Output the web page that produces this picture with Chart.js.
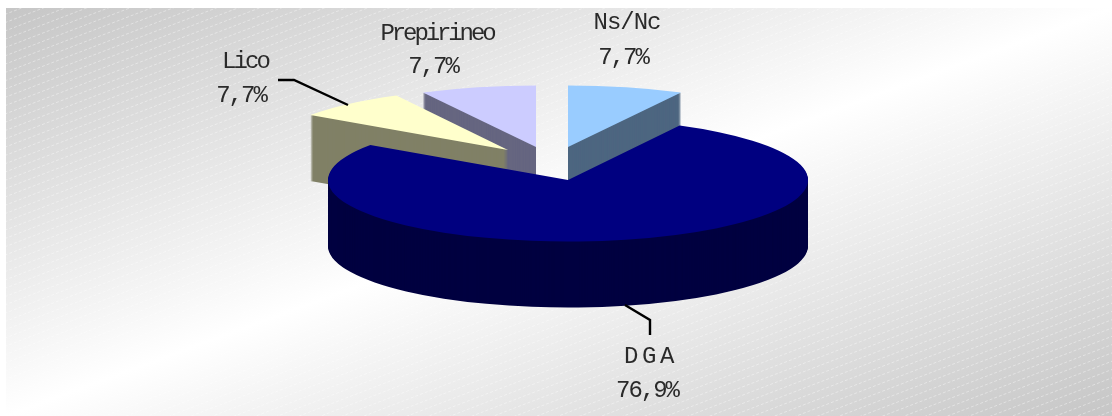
<!DOCTYPE html>
<html>
<head>
<meta charset="utf-8">
<script src="https://cdn.jsdelivr.net/npm/chart.js@4"></script>
<style>
html, body { margin: 0; padding: 0; background: #fff; }
#wrap { position: relative; width: 1112px; height: 416px; overflow: hidden; }
#bg {
    position: absolute; left: 6px; top: 8px; right: 0; bottom: 0;
    background: linear-gradient(to bottom right, #c6c6c6 0%, #ffffff 50%, #c6c6c6 100%);
}
canvas { position: absolute; left: 0; top: 0; }
</style>
</head>
<body>
<div id="wrap">
    <div id="bg"></div>
    <canvas id="pie" width="1112" height="416"></canvas>
</div>
<script>
const categories = ['Ns/Nc', 'DGA', 'Lico', 'Prepirineo'];
const shares = [7.7, 76.9, 7.7, 7.7];
const topColors = ['#99ccff', '#000080', '#ffffcc', '#ccccff'];
const wallColors = ['#4d6680', '#000040', '#808066', '#666680'];

// squashed 3D look
const pie3d = { x: 568, y: 180, ry: 61.5, depth: 66 };
const sliceRx = [243, 240, 240, 243];
const explodeX = [0, 0, -60, -32];
const explodeY = [-33, 0, -30, -33];
const drawOrder = [3, 0, 2, 1];

const labelX = [627, 651, 245, 437];
const nameBase = [29, 363, 68, 40];
const pctBase = [64, 397, 102, 73];
const nameSpacing = [-1, 3.6, -2.9, -3.1];
const leaders = [
    [[278, 80], [294, 80], [348, 105]],
    [[625, 305], [650, 320], [650, 335]]
];

const pie3dPlugin = {
    id: 'pie3d',
    beforeDraw(chart) {
        // faint dashed diagonal lines over the gradient
        const ctx = chart.ctx;
        ctx.save();
        ctx.beginPath();
        ctx.rect(6, 8, 1106, 408);
        ctx.clip();
        ctx.strokeStyle = 'rgba(255,255,255,0.4)';
        ctx.lineWidth = 1;
        ctx.setLineDash([3, 2]);
        for (let y = 8; y < 900; y += 8.3) {
            ctx.beginPath();
            ctx.moveTo(0, y);
            ctx.lineTo(1112, y - 427);
            ctx.stroke();
        }
        ctx.restore();
    },
    beforeDatasetDraw(chart, args) {
        const ctx = chart.ctx;
        const arcs = args.meta.data;
        drawOrder.forEach(i => {
            const arc = arcs[i];
            const base = arc.options;
            const place = (dy) => {
                ctx.save();
                ctx.translate(pie3d.x + explodeX[i], pie3d.y + explodeY[i] + dy);
                ctx.scale(sliceRx[i] / arc.outerRadius, pie3d.ry / arc.outerRadius);
                ctx.translate(-arc.x, -arc.y);
                arc.draw(ctx);
                ctx.restore();
            };
            arc.options = Object.assign({}, base, { backgroundColor: wallColors[i] });
            for (let d = pie3d.depth; d > 0; d--) place(d);
            arc.options = base;
            place(0);
        });
        return false;
    },
    afterDraw(chart) {
        const ctx = chart.ctx;
        ctx.save();
        ctx.strokeStyle = '#000';
        ctx.lineWidth = 2.4;
        leaders.forEach(pts => {
            ctx.beginPath();
            pts.forEach((p, j) => j ? ctx.lineTo(p[0], p[1]) : ctx.moveTo(p[0], p[1]));
            ctx.stroke();
        });
        ctx.fillStyle = '#2a2a2a';
        ctx.font = '24px "Liberation Mono"';
        ctx.textAlign = 'center';
        categories.forEach((name, i) => {
            ctx.letterSpacing = nameSpacing[i] + 'px';
            ctx.fillText(name, labelX[i], nameBase[i]);
            ctx.letterSpacing = '-2px';
            ctx.fillText(shares[i].toFixed(1).replace('.', ',') + '%', labelX[i] - 4, pctBase[i]);
        });
        ctx.restore();
    }
};

new Chart(document.getElementById('pie').getContext('2d'), {
    type: 'pie',
    data: {
        labels: categories,
        datasets: [{
            data: shares,
            backgroundColor: topColors,
            borderWidth: 0
        }]
    },
    options: {
        responsive: false,
        animation: false,
        plugins: { legend: { display: false }, tooltip: { enabled: false } }
    },
    plugins: [pie3dPlugin]
});
</script>
</body>
</html>
